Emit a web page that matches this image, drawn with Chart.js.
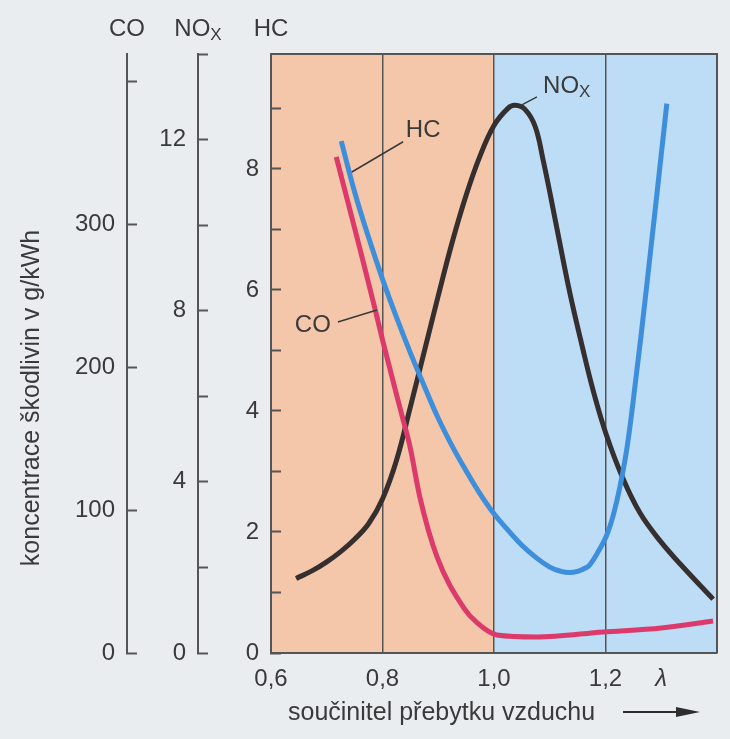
<!DOCTYPE html>
<html>
<head>
<meta charset="utf-8">
<script src="https://cdn.jsdelivr.net/npm/chart.js@4.4.1/dist/chart.umd.min.js"></script>
<style>
  html, body { margin: 0; padding: 0; background: #eaedef; }
  canvas { display: block; }
</style>
</head>
<body>
<canvas id="emiseChart" width="730" height="739"></canvas>
<script>
// hodnoty (lambda -> koncentrace)
const coLambda  = [0.717, 0.76, 0.787, 0.8, 0.837, 0.849, 0.867, 0.898, 0.945, 0.97, 1.005, 1.077, 1.196, 1.3, 1.393];
const coValues  = [347, 282, 240, 219, 163, 145, 109, 67, 32, 21, 12.6, 11.2, 14.7, 17.5, 22.4];

const noxLambda = [0.645, 0.675, 0.7, 0.725, 0.75, 0.775, 0.8, 0.825, 0.85, 0.875, 0.9, 0.925, 0.95, 0.975, 1.0, 1.025, 1.038, 1.056, 1.074, 1.088, 1.101, 1.115, 1.136, 1.158, 1.179, 1.201, 1.23, 1.262, 1.298, 1.334, 1.393];
const noxValues = [1.74, 1.93, 2.13, 2.37, 2.66, 3.02, 3.6, 4.5, 5.75, 7.05, 8.35, 9.6, 10.7, 11.62, 12.33, 12.73, 12.8, 12.7, 12.3, 11.53, 10.71, 9.78, 8.42, 7.18, 6.08, 5.12, 4.12, 3.27, 2.62, 2.08, 1.26];

const hcLambda  = [0.726, 0.75, 0.775, 0.8, 0.825, 0.85, 0.875, 0.9, 0.925, 0.95, 0.975, 1.0, 1.025, 1.05, 1.075, 1.1, 1.12, 1.135, 1.15, 1.165, 1.172, 1.186, 1.201, 1.214, 1.226, 1.239, 1.253, 1.273, 1.31];
const hcValues  = [8.46, 7.62, 6.87, 6.18, 5.55, 4.96, 4.41, 3.88, 3.42, 3.01, 2.63, 2.3, 2.03, 1.78, 1.58, 1.42, 1.35, 1.33, 1.35, 1.41, 1.46, 1.66, 1.92, 2.28, 2.75, 3.42, 4.42, 5.99, 9.08];

const xTicks      = [0.6, 0.8, 1.0, 1.2, 1.3, 1.4];
const xTickLabels = ['0,6', '0,8', '1,0', '1,2', 'λ', ''];
const coTicks      = [0, 100, 200, 300, 400];
const coTickLabels = ['0', '100', '200', '300', ''];
const noxTicks      = [0, 2, 4, 6, 8, 10, 12, 14];
const noxTickLabels = ['0', '', '4', '', '8', '', '12', ''];
const hcTicks      = [0, 1, 2, 3, 4, 5, 6, 7, 8, 9];
const hcTickLabels = ['0', '', '2', '', '4', '', '6', '', '8', ''];

const stoich = 1.0; // hranice bohate / chude smesi

const axisColor = '#555555';
const textColor = '#3a3a3a';
const fontFamily = "'Liberation Sans', Arial, sans-serif";

function toPoints(xs, ys) {
    return xs.map(function(v, i) { return { x: v, y: ys[i] }; });
}

function setTicks(values) {
    return function(scale) {
        scale.ticks = values.map(function(v) { return { value: v }; });
    };
}

function fixWidth(w) {
    return function(scale) { scale.width = w; };
}

// NO s indexem X
function drawNOx(ctx, x, y, align) {
    ctx.font = '24px ' + fontFamily;
    const w1 = ctx.measureText('NO').width;
    ctx.font = '17px ' + fontFamily;
    const w2 = ctx.measureText('X').width;
    let left = x;
    if (align === 'center') left = x - (w1 + w2) / 2;
    ctx.textAlign = 'left';
    ctx.textBaseline = 'middle';
    ctx.font = '24px ' + fontFamily;
    ctx.fillText('NO', left, y);
    ctx.font = '17px ' + fontFamily;
    ctx.fillText('X', left + w1, y + 6);
}

function yAxis(ticks, labels, weight, width, max) {
    return {
        type: 'linear',
        position: 'left',
        weight: weight,
        min: 0,
        max: max,
        afterBuildTicks: setTicks(ticks),
        afterFit: fixWidth(width),
        border: { display: true, color: axisColor, width: 2 },
        grid: {
            drawOnChartArea: false,
            drawTicks: true,
            tickLength: -10,
            tickColor: axisColor,
            tickWidth: 2
        },
        ticks: {
            padding: 22,
            color: textColor,
            font: { size: 24 },
            callback: function(value, index) { return labels[index]; }
        }
    };
}

const paperPlugin = {
    id: 'paper',
    beforeDraw: function(chart) {
        const ctx = chart.ctx, a = chart.chartArea, x = chart.scales.x;
        ctx.save();
        ctx.fillStyle = '#eaedef';
        ctx.fillRect(0, 0, chart.width, chart.height);
        const split = x.getPixelForValue(stoich);
        ctx.fillStyle = '#f4c6aa';
        ctx.fillRect(a.left, a.top, split - a.left, a.bottom - a.top);
        ctx.fillStyle = '#bddcf5';
        ctx.fillRect(split, a.top, a.right - split, a.bottom - a.top);
        ctx.restore();
    },
    afterDatasetsDraw: function(chart) {
        const ctx = chart.ctx, a = chart.chartArea;
        const x = chart.scales.x, hc = chart.scales.yHC;
        const px = function(v) { return x.getPixelForValue(v); };
        const py = function(v) { return hc.getPixelForValue(v); };
        ctx.save();
        // horni a pravy okraj
        ctx.strokeStyle = axisColor;
        ctx.lineWidth = 2;
        ctx.beginPath();
        ctx.moveTo(a.left, a.top);
        ctx.lineTo(a.right, a.top);
        ctx.lineTo(a.right, a.bottom);
        ctx.stroke();

        // popisky krivek s odkazovou carou
        ctx.lineWidth = 1.5;
        ctx.strokeStyle = '#3a3a3a';
        ctx.fillStyle = textColor;
        ctx.beginPath();
        ctx.moveTo(px(0.837), py(8.45)); ctx.lineTo(px(0.745), py(7.95));
        ctx.moveTo(px(1.077), py(9.19)); ctx.lineTo(px(1.050), py(9.06));
        ctx.moveTo(px(0.720), py(5.47)); ctx.lineTo(px(0.790), py(5.67));
        ctx.stroke();
        ctx.font = '24px ' + fontFamily;
        ctx.textAlign = 'center';
        ctx.textBaseline = 'middle';
        ctx.fillText('HC', px(0.873), py(8.64));
        ctx.fillText('CO', px(0.675), py(5.42));
        drawNOx(ctx, px(1.088), py(9.36), 'left');
        ctx.restore();
    },
    afterDraw: function(chart) {
        const ctx = chart.ctx, a = chart.chartArea, s = chart.scales;
        ctx.save();
        ctx.fillStyle = textColor;
        ctx.font = '24px ' + fontFamily;
        ctx.textAlign = 'center';
        ctx.textBaseline = 'middle';
        ctx.fillText('CO', s.yCO.right, 29);
        ctx.fillText('HC', s.yHC.right, 29);
        drawNOx(ctx, s.yNOx.right, 29, 'center');

        // nazev osy x se sipkou
        ctx.font = '25px ' + fontFamily;
        ctx.textAlign = 'left';
        ctx.fillText('součinitel přebytku vzduchu', a.left + 17, 713);
        ctx.strokeStyle = '#2e2e2e';
        ctx.fillStyle = '#2e2e2e';
        ctx.lineWidth = 2;
        ctx.beginPath();
        ctx.moveTo(623, 712);
        ctx.lineTo(680, 712);
        ctx.stroke();
        ctx.beginPath();
        ctx.moveTo(700, 712);
        ctx.lineTo(676, 707);
        ctx.lineTo(676, 717);
        ctx.closePath();
        ctx.fill();

        // nazev osy y
        ctx.fillStyle = textColor;
        ctx.translate(32, 398);
        ctx.rotate(-Math.PI / 2);
        ctx.textAlign = 'center';
        ctx.fillText('koncentrace škodlivin v g/kWh', 0, 0);
        ctx.restore();
    }
};

Chart.defaults.font.family = fontFamily;
Chart.defaults.color = textColor;

const ctx = document.getElementById('emiseChart').getContext('2d');
const emiseChart = new Chart(ctx, {
    type: 'line',
    data: {
        datasets: [{
            label: 'CO',
            data: toPoints(coLambda, coValues),
            yAxisID: 'yCO',
            borderColor: '#dc3a6b',
            borderWidth: 5,
            pointRadius: 0,
            cubicInterpolationMode: 'monotone'
        }, {
            label: 'HC',
            data: toPoints(hcLambda, hcValues),
            yAxisID: 'yHC',
            borderColor: '#3d8edb',
            borderWidth: 5,
            pointRadius: 0,
            tension: 0.4
        }, {
            label: 'NOx',
            data: toPoints(noxLambda, noxValues),
            yAxisID: 'yNOx',
            borderColor: '#352f2f',
            borderWidth: 5,
            pointRadius: 0,
            tension: 0.4
        }]
    },
    options: {
        responsive: false,
        animation: false,
        layout: {
            padding: { top: 54, right: 13, left: 0, bottom: 0 }
        },
        plugins: {
            legend: { display: false },
            title: { display: false },
            tooltip: { enabled: false }
        },
        scales: {
            x: {
                type: 'linear',
                min: 0.6,
                max: 1.4,
                afterBuildTicks: setTicks(xTicks),
                afterFit: function(scale) { scale.height = 86; },
                border: { display: true, color: axisColor, width: 2 },
                grid: {
                    drawTicks: false,
                    lineWidth: 1.5,
                    color: function(c) {
                        return c.tick && c.tick.value === 1.3 ? 'rgba(0,0,0,0)' : axisColor;
                    }
                },
                ticks: {
                    padding: 12,
                    color: textColor,
                    font: function(c) {
                        return (c.tick && c.tick.value === 1.3) ? { size: 24, style: 'italic' } : { size: 24 };
                    },
                    maxRotation: 0,
                    callback: function(value, index) { return xTickLabels[index]; }
                }
            },
            yHC: yAxis(hcTicks, hcTickLabels, 0, 73, 9.9),
            yNOx: yAxis(noxTicks, noxTickLabels, 1, 71, 14),
            yCO: yAxis(coTicks, coTickLabels, 2, 127, 419)
        }
    },
    plugins: [paperPlugin]
});
</script>
</body>
</html>
